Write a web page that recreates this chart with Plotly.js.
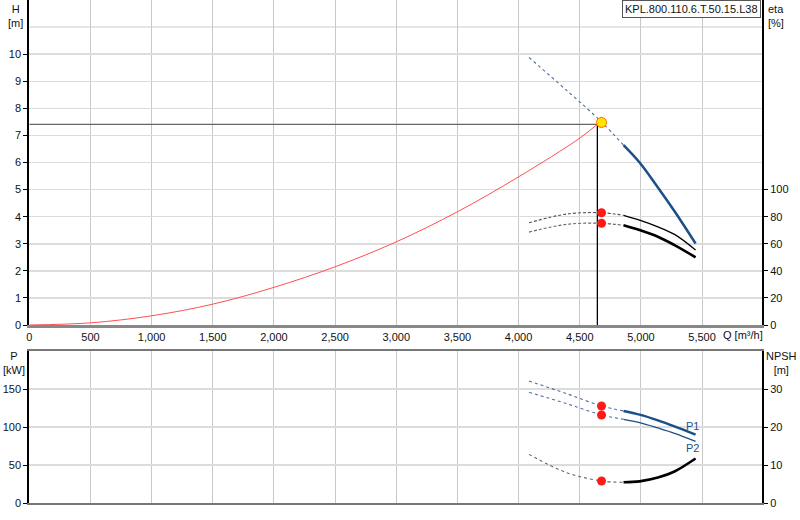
<!DOCTYPE html>
<html>
<head>
<meta charset="utf-8">
<script src="https://cdn.plot.ly/plotly-3.0.1.min.js"></script>
<style>
  html, body { margin: 0; padding: 0; background: #fff; }
  #plot { width: 800px; height: 520px; }
</style>
</head>
<body>
<div id="plot"></div>
<script>
// x ticks (flow Q, m3/h)
const qTicks = [0, 500, 1000, 1500, 2000, 2500, 3000, 3500, 4000, 4500, 5000, 5500];
const hTicks = [0, 1, 2, 3, 4, 5, 6, 7, 8, 9, 10];
const etaTicks = [0, 20, 40, 60, 80, 100];
const pTicks = [0, 50, 100, 150];
const npshTicks = [0, 10, 20, 30];

// system curve (red)
const sysQ = [0, 500, 1000, 1500, 2000, 2500, 3000, 3500, 4000, 4500, 4644];
const sysH = [0, 0.08, 0.34, 0.77, 1.39, 2.15, 3.07, 4.18, 5.47, 6.9, 7.41];

// flows for the dotted (outside range) and solid parts of the pump curves
const dotQ = [4085, 4391, 4680, 4858];
const solQ = [4858, 4989, 5139, 5275, 5447];

// pump head
const hDot = [9.88, 8.67, 7.49, 6.64];
const hSol = [6.64, 6.0, 5.08, 4.2, 3.01];

// efficiency
const eta1Dot = [75.5, 81.9, 82.9, 81.0];
const eta2Dot = [68.6, 74.3, 75.1, 73.6];
const eta1Sol = [81.0, 77.5, 72.5, 66.9, 55.4];
const eta2Sol = [73.6, 70.1, 65.2, 59.0, 50.0];

// power
const p1Dot = [160.5, 144, 127.6, 121.1];
const p2Dot = [145.7, 130.8, 115.8, 110.1];
const p1Sol = [121.1, 116.3, 108.8, 100.9, 90.0];
const p2Sol = [110.1, 105.8, 98.7, 91.7, 81.2];

// NPSH
const npshDot = [12.8, 8.0, 5.8, 5.45];
const npshSol = [5.45, 5.7, 6.7, 8.3, 11.7];

// duty point
const dutyQ = 4678;
const dutyH = 7.48;
const guideQ = 4644;
const guideH = 7.41;
const dutyEta = [82.9, 75.1];
const dutyP = [127.6, 115.8];
const dutyNpsh = 5.8;

const blue = "#1b4f8a";
const dotBlue = "#5070a0";

function ln(x, y, xa, ya, color, width, dash) {
  return {
    x: x, y: y, xaxis: xa, yaxis: ya, type: "scatter", mode: "lines",
    line: {color: color, width: width, dash: dash || "solid", shape: "spline"},
    hoverinfo: "skip"
  };
}

function dots(x, y, xa, ya) {
  return {
    x: x, y: y, xaxis: xa, yaxis: ya, type: "scatter", mode: "markers",
    marker: {color: "#ff1a1a", size: 9}, hoverinfo: "skip"
  };
}

let data = [
  // guide lines through duty point
  {x: [0, guideQ], y: [guideH, guideH], xaxis: "x", yaxis: "y", mode: "lines",
   line: {color: "#666", width: 1.3}, hoverinfo: "skip"},
  {x: [guideQ, guideQ], y: [guideH, 0], xaxis: "x", yaxis: "y", mode: "lines",
   line: {color: "#000", width: 1.3}, hoverinfo: "skip"},
  ln(sysQ, sysH, "x", "y", "#ff5050", 1),
  ln(dotQ, hDot, "x", "y", dotBlue, 1.1, "dot"),
  ln(solQ, hSol, "x", "y", blue, 2.5),
  ln(dotQ, eta1Dot, "x", "y2", "#555", 1.1, "3px,2px"),
  ln(dotQ, eta2Dot, "x", "y2", "#666", 1.1, "3px,2px"),
  ln(solQ, eta1Sol, "x", "y2", "#000", 1.3),
  ln(solQ, eta2Sol, "x", "y2", "#000", 2.6),
  dots([dutyQ, dutyQ], dutyEta, "x", "y2"),
  {x: [dutyQ], y: [dutyH], xaxis: "x", yaxis: "y", mode: "markers",
   marker: {color: "#ffe800", size: 10, line: {color: "#ff6a00", width: 1}}, hoverinfo: "skip"},
  ln(dotQ, p1Dot, "x2", "y3", dotBlue, 1.1, "dot"),
  ln(dotQ, p2Dot, "x2", "y3", dotBlue, 1.1, "dot"),
  ln(solQ, p1Sol, "x2", "y3", blue, 2.5),
  ln(solQ, p2Sol, "x2", "y3", blue, 1.3),
  ln(dotQ, npshDot, "x2", "y4", "#666", 1.1, "dot"),
  ln(solQ, npshSol, "x2", "y4", "#000", 2.6),
  dots([dutyQ, dutyQ], dutyP, "x2", "y3"),
  dots([dutyQ], [dutyNpsh], "x2", "y4")
];

const font = {family: "Liberation Sans, Arial, sans-serif", size: 11, color: "#111"};
const xDom = [29.3 / 800, 762 / 800];
const gridH = "#dcdcdc";
const gridV = "#c8c8c8";

let layout = {
  width: 800, height: 520,
  margin: {l: 0, r: 0, t: 0, b: 0},
  paper_bgcolor: "#fff", plot_bgcolor: "#fff",
  showlegend: false,
  font: font,
  xaxis: {
    domain: xDom, range: [0, 5990], anchor: "y",
    tickvals: qTicks, tickformat: ",", ticks: "", ticklen: 0,
    showgrid: true, gridcolor: gridV, gridwidth: 1,
    showline: true, linecolor: "#888", linewidth: 3, zeroline: false
  },
  yaxis: {
    domain: [1 - 325 / 520, 1], range: [0, 12], anchor: "x",
    tickvals: hTicks, ticks: "outside", ticklen: 4, tickcolor: "#000",
    showgrid: true, gridcolor: gridH, gridwidth: 1.5,
    showline: true, linecolor: "#000", linewidth: 2, zeroline: false
  },
  yaxis2: {
    overlaying: "y", side: "right", anchor: "x", range: [0, 240],
    tickvals: etaTicks, ticks: "outside", ticklen: 4, tickcolor: "#000",
    showgrid: false, showline: true, linecolor: "#000", linewidth: 2, zeroline: false
  },
  xaxis2: {
    domain: xDom, range: [0, 5990], anchor: "y3",
    tickvals: qTicks, showticklabels: false, ticks: "",
    showgrid: true, gridcolor: gridV, gridwidth: 1,
    showline: true, mirror: true, linecolor: "#777", linewidth: 2, zeroline: false
  },
  yaxis3: {
    domain: [1 - 503 / 520, 1 - 351 / 520], range: [0, 200], anchor: "x2",
    tickvals: pTicks, ticks: "outside", ticklen: 4, tickcolor: "#000",
    showgrid: true, gridcolor: gridH, gridwidth: 1.5,
    showline: true, linecolor: "#000", linewidth: 2, zeroline: false
  },
  yaxis4: {
    overlaying: "y3", side: "right", anchor: "x2", range: [0, 40],
    tickvals: npshTicks, ticks: "outside", ticklen: 4, tickcolor: "#000",
    showgrid: false, showline: true, linecolor: "#000", linewidth: 2, zeroline: false
  },
  shapes: [
    {type: "line", xref: "x", yref: "y", x0: 0, x1: 5990, y0: 11, y1: 11,
     line: {color: gridH, width: 1.5}, layer: "below"}
  ],
  annotations: [
    {xref: "paper", yref: "paper", x: 15 / 800, y: 1 - 1 / 520, xanchor: "center", yanchor: "top",
     text: "H<br>[m]", showarrow: false, font: font},
    {xref: "paper", yref: "paper", x: 766 / 800, y: 1 - 1 / 520, xanchor: "left", yanchor: "top",
     text: "eta<br>[%]", showarrow: false, font: font, align: "left"},
    {xref: "paper", yref: "paper", x: 14 / 800, y: 1 - 348 / 520, xanchor: "center", yanchor: "top",
     text: "P<br>[kW]", showarrow: false, font: font},
    {xref: "paper", yref: "paper", x: 781 / 800, y: 1 - 348 / 520, xanchor: "center", yanchor: "top",
     text: "NPSH<br>[m]", showarrow: false, font: font},
    {xref: "paper", yref: "paper", x: 721 / 800, y: 1 - 334.5 / 520, xanchor: "left", yanchor: "middle",
     text: "Q [m³/h]", showarrow: false, font: font},
    {xref: "paper", yref: "paper", x: 761 / 800, y: 1, xanchor: "right", yanchor: "top",
     text: "KPL.800.110.6.T.50.15.L38", showarrow: false, font: font,
     bgcolor: "#fff", bordercolor: "#555", borderwidth: 1, borderpad: 2},
    {xref: "x2", yref: "y3", x: 5425, y: 101.3, xanchor: "center", yanchor: "middle",
     text: "P1", showarrow: false, font: {family: font.family, size: 11, color: blue}},
    {xref: "x2", yref: "y3", x: 5425, y: 72.9, xanchor: "center", yanchor: "middle",
     text: "P2", showarrow: false, font: {family: font.family, size: 11, color: blue}}
  ]
};

Plotly.newPlot("plot", data, layout, {staticPlot: true, displayModeBar: false});
</script>
</body>
</html>
